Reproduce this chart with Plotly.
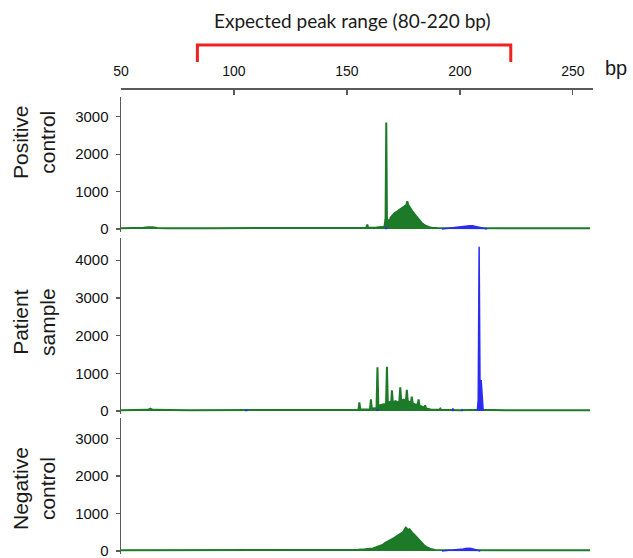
import plotly.graph_objects as go

# ---------------- data (bp, RFU) ----------------
pos_green_bp = [50, 58, 60, 62, 64, 66, 70, 90, 110, 130, 150, 155, 158.6, 159, 159.4, 163, 166.6,
                167.1, 167.4, 167.7, 168.0, 168.4, 168.8, 169.3, 170.2, 171, 172, 173, 174, 175,
                175.8, 176.4, 176.7, 177.1, 178, 179, 180, 181, 182, 183, 184, 185, 186.5, 188,
                190, 200, 220, 240, 257.6]
pos_green_rfu = [20, 20, 35, 45, 50, 25, 20, 20, 25, 20, 25, 30, 35, 120, 35, 40, 60,
                 300, 2850, 300, 80, 260, 180, 300, 380, 420, 460, 500, 530, 580,
                 620, 660, 740, 650, 580, 470, 390, 310, 240, 170, 120, 80, 50, 30,
                 25, 20, 20, 20, 20]
# None separates the individual blue peaks
pos_blue_bp = [166.9, 167.4, 167.9, None, 192, 194.4, 196, 198, 200, 201.5, 202.5, 203.2, 204.3,
               205.5, 206.5, 207.5, 208.5, 209.5, 210.5, 212]
pos_blue_rfu = [0, 40, 0, None, 0, 20, 35, 45, 55, 70, 85, 100, 90,
                85, 70, 60, 55, 45, 20, 0]

pat_green_bp = [50, 60, 62, 63, 64, 80, 100, 120, 140, 150, 155.1, 155.5, 155.9, 160.2, 160.6,
                161, 163.1, 163.5, 163.9, 165, 166.5, 167.3, 167.7, 168.1, 169.1, 169.6, 169.9,
                170.3, 171.5, 172.5, 173.2, 173.6, 174, 175, 176.1, 176.5, 176.9, 178, 178.3,
                178.7, 179.1, 180.5, 181.3, 181.7, 182.1, 183.5, 184.2, 184.6, 185, 187, 190.9,
                191.3, 191.7, 200, 207.9, 208.5, 209.2, 220, 240, 257.6]
pat_green_rfu = [20, 20, 30, 60, 30, 20, 20, 20, 25, 30, 35, 230, 40, 40, 310,
                 60, 80, 1160, 130, 160, 180, 170, 1175, 200, 240, 220, 550,
                 230, 260, 220, 260, 630, 270, 300, 260, 560, 270, 230, 210,
                 380, 200, 170, 160, 310, 140, 110, 90, 150, 70, 40, 30,
                 60, 30, 20, 30, 120, 30, 20, 20, 20]
pat_blue_bp = [105, 105.5, 106, None, 163.2, 163.5, 163.8, None, 196.6, 196.9, 197.2, None,
               200.6, 200.9, 201.2, None, 207.7, 208.1, 208.5, 208.9, 209.4, 209.8, 210.3]
pat_blue_rfu = [0, 30, 0, None, 0, 40, 0, None, 0, 70, 0, None,
                0, 30, 0, None, 0, 300, 4360, 600, 820, 300, 0]

neg_green_bp = [50, 60, 63, 64, 80, 100, 120, 140, 150, 155, 158, 160, 161.6, 163, 164.5, 166,
                167, 168, 169, 170, 171, 172, 173, 174, 174.8, 175.5, 176, 176.5, 177, 177.7,
                178.3, 179, 180, 181, 182, 183, 184, 185, 186, 187.5, 189, 195, 200, 220, 240,
                257.6]
neg_green_rfu = [20, 20, 40, 20, 20, 20, 20, 25, 30, 35, 45, 55, 70, 100, 130, 170,
                 220, 250, 280, 300, 350, 390, 420, 470, 500, 560, 620, 600, 560, 580,
                 520, 480, 420, 350, 290, 220, 160, 110, 75, 45, 30, 25, 20, 20, 20,
                 20]
neg_blue_bp = [192, 193.5, 195, 197, 199, 200.5, 201.5, 202.5, 203.1, 204, 205, 206, 207,
               207.7, 209]
neg_blue_rfu = [0, 15, 20, 25, 30, 40, 55, 70, 80, 75, 65, 50, 30, 15, 0]

panel_labels = ["Positive<br>control", "Patient<br>sample", "Negative<br>control"]
x_ticks = [50, 100, 150, 200, 250]
y_ticks_pos = [0, 1000, 2000, 3000]
y_ticks_pat = [0, 1000, 2000, 3000, 4000]
y_ticks_neg = [0, 1000, 2000, 3000]
title_text = "Expected peak range (80-220 bp)"
range_lo, range_hi = 83.8, 222.5

# ---------------- layout helpers (pixel geometry) ----------------
W, H = 633, 558
GREEN = "#1c7a28"
BLUE = "#2a2df0"
AXC = "#5a5a5a"
FONT = "Liberation Sans, Arial, sans-serif"


def px_x(p):
    return p / W


def px_y(p):
    return 1 - p / H


x_range = [50, 258.9]
x_dom = [px_x(121), px_x(593)]

# (top px, bottom px, y range)
panels = [
    (97, 232, [-80, 3530], y_ticks_pos, pos_green_bp, pos_green_rfu, pos_blue_bp, pos_blue_rfu, 142),
    (238, 414, [-80, 4590], y_ticks_pat, pat_green_bp, pat_green_rfu, pat_blue_bp, pat_blue_rfu, 322),
    (418, 554, [-80, 3547], y_ticks_neg, neg_green_bp, neg_green_rfu, neg_blue_bp, neg_blue_rfu, 489),
]

fig = go.Figure()
layout = dict(
    width=W, height=H, margin=dict(l=0, r=0, t=0, b=0, autoexpand=False),
    paper_bgcolor="white", plot_bgcolor="white", showlegend=False,
    font=dict(family=FONT, color="#1a1a1a"),
)
annotations = []
shapes = []

for i, (top, bot, yr, yt, gbp, grfu, bbp, brfu, lab_y) in enumerate(panels):
    n = i + 1
    xa = "x" if n == 1 else f"x{n}"
    ya = "y" if n == 1 else f"y{n}"
    fig.add_trace(go.Scatter(x=gbp, y=grfu, mode="lines", fill="tozeroy",
                             line=dict(color=GREEN, width=2), fillcolor=GREEN,
                             xaxis=xa, yaxis=ya, hoverinfo="skip"))
    fig.add_trace(go.Scatter(x=bbp, y=brfu, mode="lines", fill="tozeroy", connectgaps=False,
                             line=dict(color=BLUE, width=1.5), fillcolor=BLUE,
                             xaxis=xa, yaxis=ya, hoverinfo="skip"))
    xkey = "xaxis" if n == 1 else f"xaxis{n}"
    ykey = "yaxis" if n == 1 else f"yaxis{n}"
    layout[ykey] = dict(
        domain=[px_y(bot), px_y(top)], range=yr, anchor=xa, automargin=False,
        showgrid=False, zeroline=False, showline=True, linecolor=AXC, linewidth=1.5,
        ticks="outside", ticklen=4, tickcolor=AXC, tickwidth=1.2,
        tickvals=yt, ticktext=[str(v) for v in yt],
        tickfont=dict(family=FONT, size=15, color="#111111"),
        ticklabelstandoff=4, ticklabeloverflow="allow",
    )
    if n == 1:
        layout[xkey] = dict(
            domain=x_dom, range=x_range, anchor="free", position=px_y(88), side="top",
            automargin=False,
            showgrid=False, zeroline=False, showline=True, linecolor=AXC, linewidth=1.5,
            ticks="inside", ticklen=5, tickcolor=AXC, tickwidth=1.2,
            tickvals=x_ticks, ticktext=[str(v) for v in x_ticks],
            tickfont=dict(family=FONT, size=14, color="#111111"),
            ticklabelstandoff=6, ticklabeloverflow="allow",
        )
    else:
        layout[xkey] = dict(domain=x_dom, range=x_range, anchor=ya, matches="x",
                            automargin=False, visible=False, showgrid=False, zeroline=False)
    annotations.append(dict(
        text=panel_labels[i], xref="paper", yref="paper", x=px_x(34), y=px_y(lab_y),
        xanchor="center", yanchor="middle", textangle=-90, showarrow=False,
        font=dict(family=FONT, size=21, color="#1a1a1a"),
    ))

# "bp" unit label and title
annotations.append(dict(text="bp", xref="paper", yref="paper", x=px_x(616), y=px_y(68),
                        xanchor="center", yanchor="middle", showarrow=False,
                        font=dict(family=FONT, size=20, color="#1a1a1a")))
annotations.append(dict(text=title_text, xref="paper", yref="paper", x=px_x(352), y=px_y(21),
                        xanchor="center", yanchor="middle", showarrow=False,
                        font=dict(family="Lato, Open Sans, sans-serif", size=19, color="#1a1a1a")))

# red bracket marking expected range (in bp units on the top axis)
shapes.append(dict(type="path", xref="x", yref="paper",
                   path=f"M {range_lo},{px_y(62)} L {range_lo},{px_y(45)} L {range_hi},{px_y(45)} L {range_hi},{px_y(62)}",
                   line=dict(color="#ee2222", width=3)))

layout["annotations"] = annotations
layout["shapes"] = shapes
fig.update_layout(**layout)
# remove the browser's default 8px page margin so the figure sits at the window origin
fig.write_html("out.html", config={"displayModeBar": False, "staticPlot": True},
               post_script="document.body.style.margin='0';document.body.style.padding='0';")
